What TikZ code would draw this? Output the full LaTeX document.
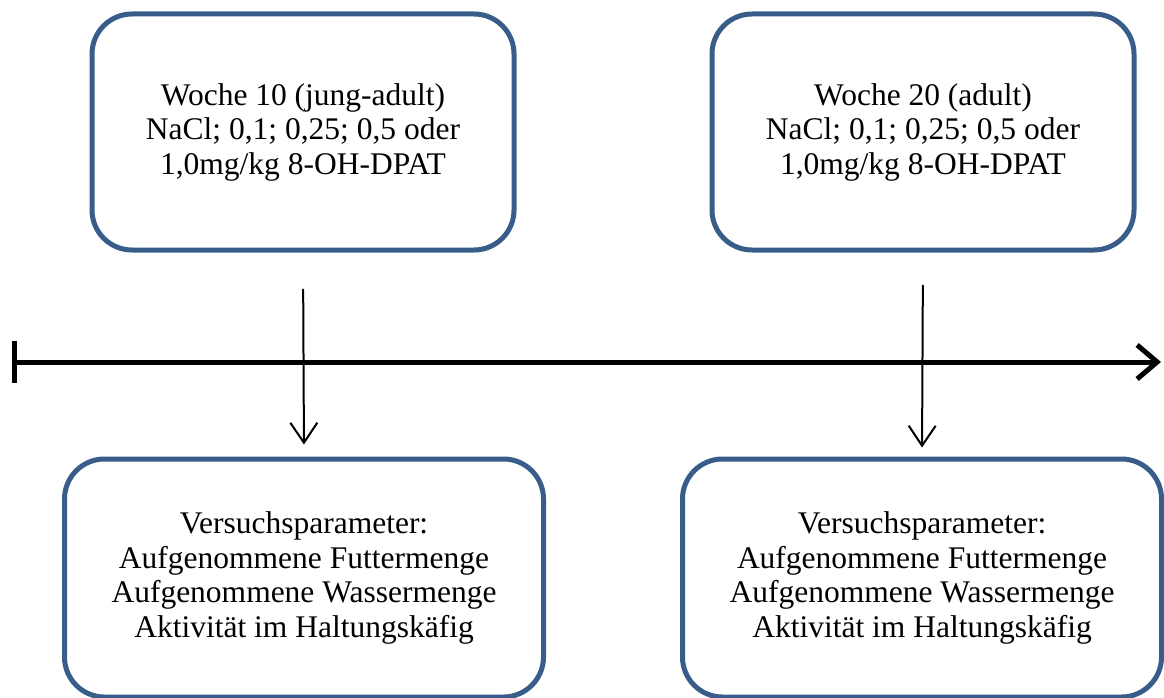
\documentclass[tikz,border=0pt]{standalone}
\usepackage{fontspec}
\setmainfont{Liberation Serif}
\usetikzlibrary{arrows.meta}
\definecolor{boxblue}{RGB}{56,93,138}
\tikzset{
	phase/.style={draw=boxblue,line width=5pt,rounded corners=40pt,align=center,
		minimum width=422pt,minimum height=236pt,inner sep=0pt,
		font=\fontsize{31.5}{34.5}\selectfont},
	param/.style={phase,minimum width=479pt,minimum height=238pt},
	link/.style={line width=2pt,-{Straight Barb[length=20pt,width=27pt,line width=2pt]}},
}
\begin{document}
\begin{tikzpicture}[x=1pt,y=-1pt,line join=round,line cap=round]
				\useasboundingbox (0,0) rectangle (1164,698);
				% Zeitachse
				\coordinate (T0) at (14,362);
				\coordinate (T1) at (1161,362);
				\draw[line width=5pt,line cap=butt,-{Straight Barb[length=20pt,width=34pt,line width=5pt]}] (T0) -- (T1);
				\draw[line width=5pt,line cap=butt] (14,341) -- (14,383);
				% Applikation
				\node[phase] (W10) at (303,132) {Woche 10 (jung-adult)\\NaCl; 0,1; 0,25; 0,5 oder\\1,0mg/kg 8-OH-DPAT};
				\node[phase] (W20) at (923,132) {Woche 20 (adult)\\NaCl; 0,1; 0,25; 0,5 oder\\1,0mg/kg 8-OH-DPAT};
				% Versuchsparameter
				\node[param] (P10) at (304,578) {Versuchsparameter:\\Aufgenommene Futtermenge\\Aufgenommene Wassermenge\\Aktivit\"at im Haltungsk\"afig};
				\node[param] (P20) at (922,578) {Versuchsparameter:\\Aufgenommene Futtermenge\\Aufgenommene Wassermenge\\Aktivit\"at im Haltungsk\"afig};
				\draw[link,shorten <=37pt,shorten >=12pt] (W10.south) -- (P10.north);
				\draw[link,shorten <=33pt,shorten >=9pt] (W20.south) -- (P20.north);
		\end{tikzpicture}
\end{document}
